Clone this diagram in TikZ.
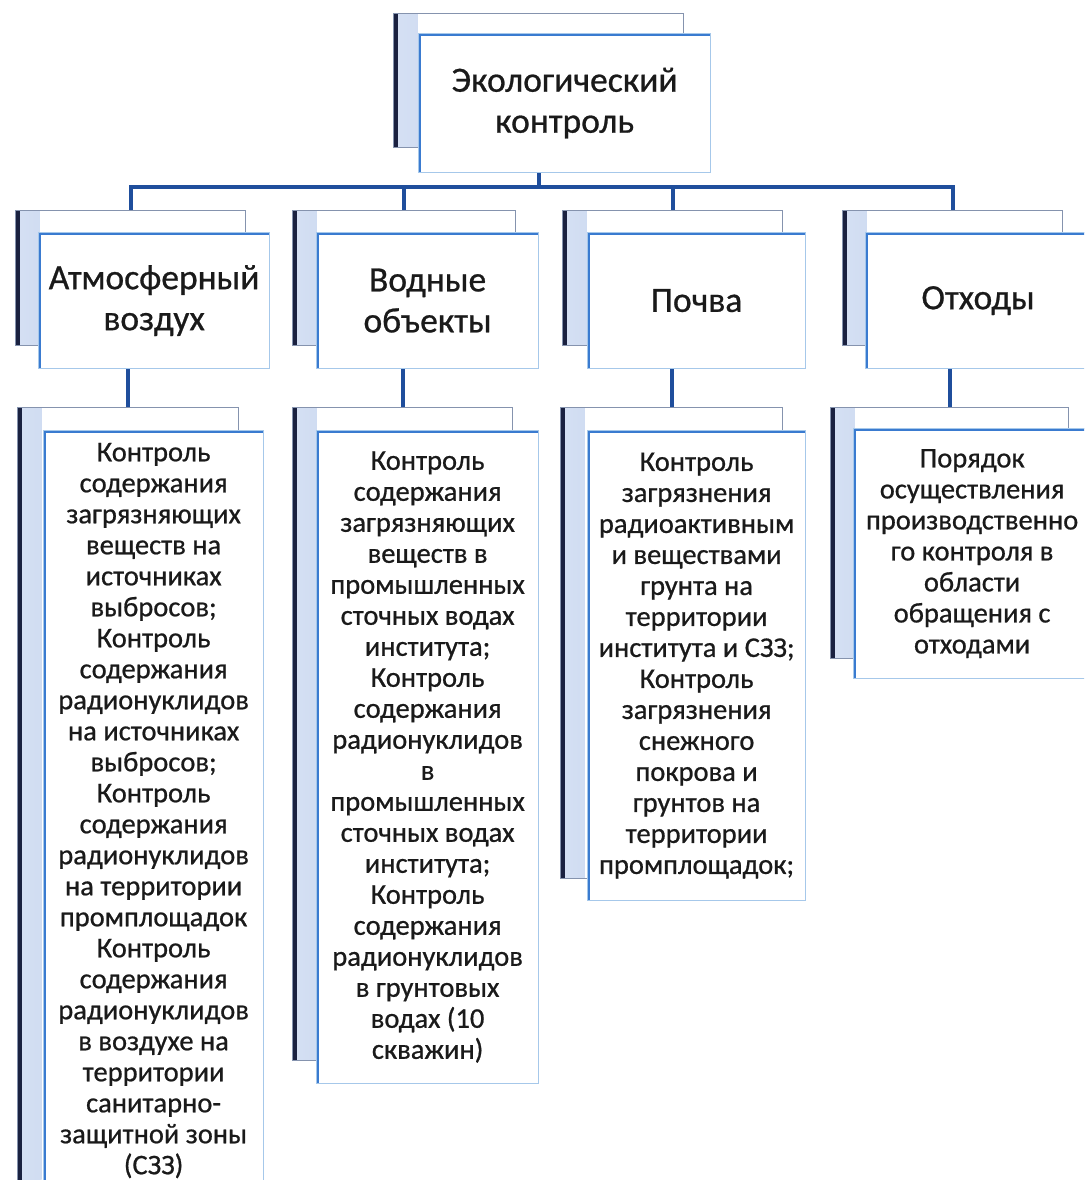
\documentclass[tikz,border=0pt]{standalone}
\usepackage{fontspec}
\setmainfont{Carlito}
\newfontfamily\inkfont{Carlito}[FakeBold=0.7]
\usetikzlibrary{positioning, calc, backgrounds}

\definecolor{linkblue}{HTML}{1F4E9C}
\definecolor{edgeblue}{HTML}{3A7BD0}
\definecolor{paleblue}{HTML}{A6C8EA}
\definecolor{stripdark}{HTML}{A8BEEA}
\definecolor{striplight}{HTML}{D5E0F3}
\definecolor{navy}{HTML}{1A2140}
\definecolor{topgray}{HTML}{8593AE}
\definecolor{ink}{HTML}{1A1A1A}

\begin{document}
\begin{tikzpicture}[x=1pt, y=-1pt,
    back/.style={draw=topgray, line width=1.2pt, fill=white, anchor=north west, inner sep=0pt,
      path picture={
        \shade[left color=striplight, right color=stripdark] (path picture bounding box.north west) rectangle ([xshift=24pt]path picture bounding box.south west);
        \draw[navy, line width=9pt] (path picture bounding box.north west) -- (path picture bounding box.south west);
      }},
    front/.style={draw=paleblue, line width=1.2pt, fill=white, anchor=north west, inner sep=0pt,
      align=center, text=ink,
      path picture={
        \draw[edgeblue, line width=5pt] (path picture bounding box.south west) -- (path picture bounding box.north west) -- (path picture bounding box.north east);
      }},
    head/.style={front, font=\inkfont\fontsize{35.5}{41}\selectfont},
    body/.style={front, font=\inkfont\fontsize{28.5}{31}\selectfont},
    link/.style={draw=linkblue, line width=4pt, line cap=rect}]
  \useasboundingbox (0,0) rectangle (1084,1180);
  \clip (0,0) rectangle (1084,1180);

  % root
  \node[back, minimum width=290, minimum height=134] (eco-b) at (393,13) {};
  \node[head, minimum width=292, minimum height=139] (eco) at (418,33) {Экологический\\контроль};

  % second row
  \node[back, minimum width=230, minimum height=135] (air-b) at (15,210) {};
  \node[head, minimum width=231, minimum height=136] (air) at (38,232) {Атмосферный\\воздух};
  \node[back, minimum width=223, minimum height=135] (water-b) at (292,210) {};
  \node[head, minimum width=222, minimum height=136] (water) at (316,232) {Водные\\объекты};
  \node[back, minimum width=220, minimum height=135] (soil-b) at (562,210) {};
  \node[head, minimum width=218, minimum height=136] (soil) at (587,232) {Почва};
  \node[back, minimum width=220, minimum height=135] (waste-b) at (842,210) {};
  \node[head, minimum width=225, minimum height=136] (waste) at (865,232) {Отходы};

  % third row
  \node[back, minimum width=221, minimum height=800] (air-l-b) at (17,407) {};
  \node[body, minimum width=220, minimum height=760] (air-l) at (43,430) {Контроль\\содержания\\загрязняющих\\веществ на\\источниках\\выбросов;\\Контроль\\содержания\\радионуклидов\\на источниках\\выбросов;\\Контроль\\содержания\\радионуклидов\\на территории\\промплощадок\\Контроль\\содержания\\радионуклидов\\в воздухе на\\территории\\санитарно-\\защитной зоны\\(СЗЗ)};
  \node[back, minimum width=220, minimum height=653] (water-l-b) at (292,407) {};
  \node[body, minimum width=222, minimum height=653] (water-l) at (316,430) {Контроль\\содержания\\загрязняющих\\веществ в\\промышленных\\сточных водах\\института;\\Контроль\\содержания\\радионуклидов\\в\\промышленных\\сточных водах\\института;\\Контроль\\содержания\\радионуклидов\\в грунтовых\\водах (10\\скважин)};
  \node[back, minimum width=222, minimum height=471] (soil-l-b) at (560,407) {};
  \node[body, minimum width=218, minimum height=470] (soil-l) at (587,430) {Контроль\\загрязнения\\радиоактивным\\и веществами\\грунта на\\территории\\института и СЗЗ;\\Контроль\\загрязнения\\снежного\\покрова и\\грунтов на\\территории\\промплощадок;};
  \node[back, minimum width=238, minimum height=251] (waste-l-b) at (830,407) {};
  \node[body, minimum width=237, minimum height=250] (waste-l) at (853,428) {Порядок\\осуществления\\производственно\\го контроля в\\области\\обращения с\\отходами};

  \coordinate (bus) at (0,187);
  \begin{scope}[on background layer]
    \draw[link] (eco-b.south |- eco.south) -- (eco-b.south |- bus);
    \draw[link] (air-b.north |- bus) -- (waste-b.north |- bus);
    \foreach \n in {air, water, soil, waste} {
      \draw[link] (\n-b.north |- bus) -- (\n-b.north);
      \draw[link] (\n-l-b.north |- \n.south) -- (\n-l-b.north);
    };
  \end{scope}
\end{tikzpicture}
\end{document}
